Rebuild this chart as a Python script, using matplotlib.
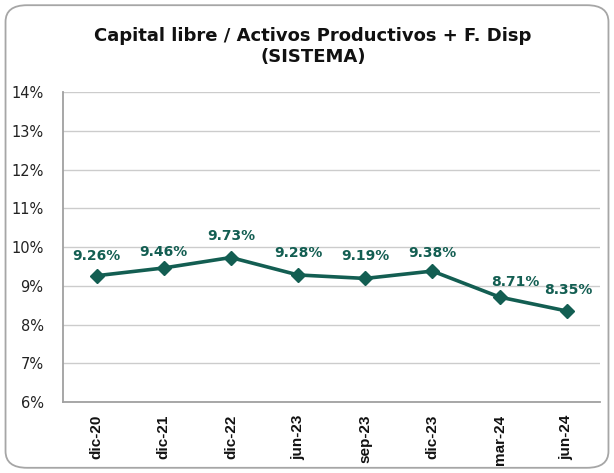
import matplotlib
matplotlib.use("Agg")
import matplotlib.pyplot as plt
from matplotlib.patches import FancyBboxPatch
from matplotlib.ticker import FuncFormatter, MultipleLocator

categories = ["dic-20", "dic-21", "dic-22", "jun-23", "sep-23", "dic-23", "mar-24", "jun-24"]
values = [9.26, 9.46, 9.73, 9.28, 9.19, 9.38, 8.71, 8.35]
labels = ["9.26%", "9.46%", "9.73%", "9.28%", "9.19%", "9.38%", "8.71%", "8.35%"]
# label offsets in pixels (dx, dy above point)
label_offsets_px = [(0, 20), (0, 16), (0, 22), (0, 22), (0, 22), (0, 18), (16, 15), (2, 21)]

title = "Capital libre / Activos Productivos + F. Disp\n(SISTEMA)"
color = "#135E52"

fig = plt.figure(figsize=(6.14, 4.73), dpi=100)
fig.patches.append(FancyBboxPatch((0.009, 0.011), 0.982, 0.978,
                                  boxstyle="round,pad=0,rounding_size=0.035",
                                  transform=fig.transFigure, fill=False,
                                  edgecolor="#a6a6a6", linewidth=1.3))

ax = fig.add_axes([0.1026, 0.150, 0.875, 0.6554])
x = list(range(len(categories)))
ax.plot(x, values, color=color, linewidth=2.6, marker="D", markersize=7,
        markerfacecolor=color, markeredgecolor=color, zorder=3)
for xi, v, lab, off in zip(x, values, labels, label_offsets_px):
    ax.annotate(lab, (xi, v), xytext=(off[0] * 0.72, off[1] * 0.72),
                textcoords="offset points",
                ha="center", va="center", fontsize=10, fontweight="bold",
                color=color)

ax.set_xlim(-0.5, len(categories) - 0.5)
ax.set_ylim(6, 14)
ax.yaxis.set_major_locator(MultipleLocator(1))
ax.yaxis.set_major_formatter(FuncFormatter(lambda v, p: f"{v:.0f}%"))
ax.set_xticks(x)
ax.set_xticklabels(categories, rotation=90, fontweight="bold", fontsize=11,
                   family="Liberation Sans", color="#111111")
for t in ax.get_yticklabels():
    t.set_fontsize(10.5)
    t.set_color("#222222")
ax.tick_params(axis="both", length=0)
ax.tick_params(axis="x", pad=9)
ax.tick_params(axis="y", pad=14)
ax.grid(axis="y", color="#cccccc", linewidth=1)
ax.set_axisbelow(True)
for s in ["top", "right"]:
    ax.spines[s].set_visible(False)
for s in ["left", "bottom"]:
    ax.spines[s].set_color("#a0a0a0")
    ax.spines[s].set_linewidth(1.3)

fig.text(0.51, 0.902, title, ha="center", va="center", fontsize=13,
         fontweight="bold", color="#111111", linespacing=1.2)

fig.savefig("out.png", dpi=100)
